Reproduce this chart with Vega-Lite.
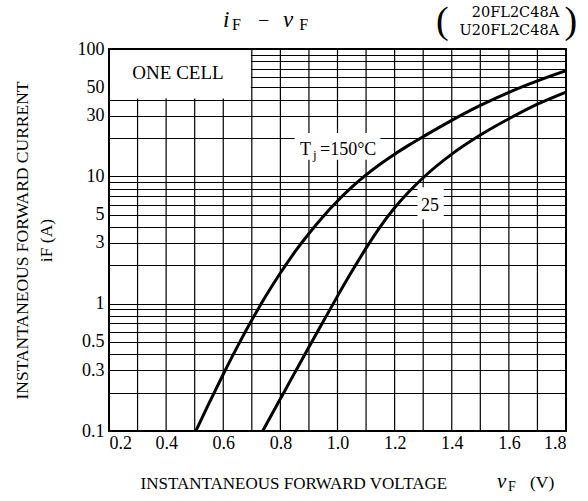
{
  "$schema": "https://vega.github.io/schema/vega-lite/v6.json",
  "width": 457,
  "height": 382,
  "autosize": "none",
  "padding": {"left": 109, "top": 49, "right": 22, "bottom": 70},
  "background": "white",
  "config": {
    "view": {"stroke": null},
    "text": {"font": "Liberation Serif", "color": "#000"}
  },
  "layer": [
    {
      "data": {
        "values": [
          {"Tj": "150", "v": 0.504, "i": 0.1},
          {"Tj": "150", "v": 0.55, "i": 0.165},
          {"Tj": "150", "v": 0.6, "i": 0.279},
          {"Tj": "150", "v": 0.65, "i": 0.462},
          {"Tj": "150", "v": 0.7, "i": 0.743},
          {"Tj": "150", "v": 0.75, "i": 1.159},
          {"Tj": "150", "v": 0.8, "i": 1.742},
          {"Tj": "150", "v": 0.85, "i": 2.535},
          {"Tj": "150", "v": 0.9, "i": 3.556},
          {"Tj": "150", "v": 0.95, "i": 4.842},
          {"Tj": "150", "v": 1.0, "i": 6.397},
          {"Tj": "150", "v": 1.05, "i": 8.222},
          {"Tj": "150", "v": 1.1, "i": 10.26},
          {"Tj": "150", "v": 1.15, "i": 12.5},
          {"Tj": "150", "v": 1.2, "i": 14.93},
          {"Tj": "150", "v": 1.25, "i": 17.58},
          {"Tj": "150", "v": 1.3, "i": 20.51},
          {"Tj": "150", "v": 1.4, "i": 27.54},
          {"Tj": "150", "v": 1.5, "i": 36.06},
          {"Tj": "150", "v": 1.6, "i": 45.71},
          {"Tj": "150", "v": 1.7, "i": 56.23},
          {"Tj": "150", "v": 1.8, "i": 67.61},
          {"Tj": "25", "v": 0.738, "i": 0.1},
          {"Tj": "25", "v": 0.8, "i": 0.179},
          {"Tj": "25", "v": 0.85, "i": 0.286},
          {"Tj": "25", "v": 0.9, "i": 0.456},
          {"Tj": "25", "v": 0.95, "i": 0.724},
          {"Tj": "25", "v": 1.0, "i": 1.146},
          {"Tj": "25", "v": 1.05, "i": 1.786},
          {"Tj": "25", "v": 1.1, "i": 2.729},
          {"Tj": "25", "v": 1.15, "i": 4.036},
          {"Tj": "25", "v": 1.2, "i": 5.662},
          {"Tj": "25", "v": 1.25, "i": 7.568},
          {"Tj": "25", "v": 1.3, "i": 9.75},
          {"Tj": "25", "v": 1.4, "i": 14.93},
          {"Tj": "25", "v": 1.5, "i": 21.09},
          {"Tj": "25", "v": 1.6, "i": 28.31},
          {"Tj": "25", "v": 1.7, "i": 36.9},
          {"Tj": "25", "v": 1.8, "i": 45.92}
        ]
      },
      "mark": {"type": "line", "color": "#000", "strokeWidth": 3, "interpolate": "monotone", "clip": true},
      "encoding": {
        "detail": {"field": "Tj", "type": "nominal"},
        "x": {
          "field": "v",
          "type": "quantitative",
          "scale": {"domain": [0.2, 1.8], "nice": false, "zero": false},
          "axis": {
            "values": [0.2, 0.3, 0.4, 0.5, 0.6, 0.7, 0.8, 0.9, 1.0, 1.1, 1.2, 1.3, 1.4, 1.5, 1.6, 1.7, 1.8],
            "labelExpr": "round(datum.value*10) % 2 == 0 ? format(datum.value, '.1f') : ''",
            "labelOverlap": false,
            "labelFont": "Liberation Serif",
            "labelFontSize": 18,
            "labelColor": "#000",
            "labelPadding": 3,
            "ticks": false,
            "domain": false,
            "grid": false,
            "title": "INSTANTANEOUS FORWARD VOLTAGE",
            "titleFont": "Liberation Serif",
            "titleFontSize": 17,
            "titleFontWeight": "normal",
            "titleColor": "#000",
            "titleAnchor": "start",
            "titleAlign": "left",
            "titleX": 31,
            "titleY": 57,
            "titleBaseline": "alphabetic"
          }
        },
        "y": {
          "field": "i",
          "type": "quantitative",
          "scale": {"type": "log", "domain": [0.1, 100], "nice": false},
          "axis": {
            "values": [0.1, 0.2, 0.3, 0.4, 0.5, 0.6, 0.7, 0.8, 0.9, 1, 2, 3, 4, 5, 6, 7, 8, 9, 10, 20, 30, 40, 50, 60, 70, 80, 90, 100],
            "format": "~g",
            "labelExpr": "indexof([0.1, 0.3, 0.5, 1, 3, 5, 10, 30, 50, 100], datum.value) >= 0 ? datum.label : ''",
            "labelOverlap": false,
            "labelFont": "Liberation Serif",
            "labelFontSize": 18,
            "labelColor": "#000",
            "labelPadding": 5,
            "ticks": false,
            "domain": false,
            "grid": true,
            "gridColor": "#000",
            "gridOpacity": 1,
            "gridWidth": 1.2,
            "title": ["INSTANTANEOUS FORWARD CURRENT", "iF  (A)"],
            "titleFont": "Liberation Serif",
            "titleFontSize": 17.5,
            "titleFontWeight": "normal",
            "titleColor": "#000",
            "titleLineHeight": 24,
            "titleBaseline": "middle",
            "titleAlign": "center",
            "titleAngle": -90,
            "titleX": -87,
            "titleY": 191
          }
        }
      }
    },
    {
      "data": {
        "values": [
          {"g": 0.2}, {"g": 0.3}, {"g": 0.4}, {"g": 0.5}, {"g": 0.6}, {"g": 0.7}, {"g": 0.8}, {"g": 0.9}, {"g": 1.0},
          {"g": 1.1}, {"g": 1.2}, {"g": 1.3}, {"g": 1.4}, {"g": 1.5}, {"g": 1.6}, {"g": 1.7}, {"g": 1.8}
        ]
      },
      "mark": {"type": "rule", "color": "#000", "strokeWidth": 1.2},
      "encoding": {
        "x": {"field": "g", "type": "quantitative"}
      }
    },
    {
      "data": {"values": [{}]},
      "mark": {"type": "rect", "fill": "white", "stroke": null},
      "encoding": {
        "x": {"datum": 0.2, "type": "quantitative"},
        "x2": {"datum": 0.6965},
        "y": {"datum": 40.8, "type": "quantitative"},
        "y2": {"datum": 100}
      }
    },
    {
      "data": {"values": [{}]},
      "mark": {"type": "rect", "fill": "white", "stroke": null},
      "encoding": {
        "x": {"datum": 0.85, "type": "quantitative"},
        "x2": {"datum": 1.15},
        "y": {"datum": 13.5, "type": "quantitative"},
        "y2": {"datum": 21.9}
      }
    },
    {
      "data": {"values": [{}]},
      "mark": {"type": "rect", "fill": "white", "stroke": null},
      "encoding": {
        "x": {"datum": 1.28, "type": "quantitative"},
        "x2": {"datum": 1.372},
        "y": {"datum": 4.6, "type": "quantitative"},
        "y2": {"datum": 8.2}
      }
    },
    {
      "data": {"values": [{}]},
      "mark": {"type": "text", "text": "ONE CELL", "fontSize": 19, "align": "center", "baseline": "middle"},
      "encoding": {"x": {"datum": 0.4416, "type": "quantitative"}, "y": {"datum": 64.8, "type": "quantitative"}}
    },
    {
      "data": {"values": [{}]},
      "mark": {"type": "text", "text": "T", "fontSize": 18, "align": "left", "baseline": "alphabetic", "dy": 6},
      "encoding": {"x": {"datum": 0.8688, "type": "quantitative"}, "y": {"datum": 16.4, "type": "quantitative"}}
    },
    {
      "data": {"values": [{}]},
      "mark": {"type": "text", "text": "j", "fontSize": 13, "align": "left", "baseline": "alphabetic", "dy": 10},
      "encoding": {"x": {"datum": 0.9143, "type": "quantitative"}, "y": {"datum": 16.4, "type": "quantitative"}}
    },
    {
      "data": {"values": [{}]},
      "mark": {"type": "text", "text": "=150°C", "fontSize": 18, "align": "left", "baseline": "alphabetic", "dy": 6},
      "encoding": {"x": {"datum": 0.9388, "type": "quantitative"}, "y": {"datum": 16.4, "type": "quantitative"}}
    },
    {
      "data": {"values": [{}]},
      "mark": {"type": "text", "text": "25", "fontSize": 18, "align": "center", "baseline": "middle", "dy": 1},
      "encoding": {"x": {"datum": 1.324, "type": "quantitative"}, "y": {"datum": 5.96, "type": "quantitative"}}
    },
    {
      "data": {"values": [{}]},
      "mark": {"type": "text", "text": "i", "fontSize": 23, "fontStyle": "italic", "align": "left", "baseline": "alphabetic", "dy": -22},
      "encoding": {"x": {"datum": 0.599, "type": "quantitative"}, "y": {"datum": 100, "type": "quantitative"}}
    },
    {
      "data": {"values": [{}]},
      "mark": {"type": "text", "text": "F", "fontSize": 16, "align": "left", "baseline": "alphabetic", "dy": -19},
      "encoding": {"x": {"datum": 0.6307, "type": "quantitative"}, "y": {"datum": 100, "type": "quantitative"}}
    },
    {
      "data": {"values": [{}]},
      "mark": {"type": "text", "text": "−", "fontSize": 20, "align": "left", "baseline": "alphabetic", "dy": -22},
      "encoding": {"x": {"datum": 0.722, "type": "quantitative"}, "y": {"datum": 100, "type": "quantitative"}}
    },
    {
      "data": {"values": [{}]},
      "mark": {"type": "text", "text": "v", "fontSize": 23, "fontStyle": "italic", "align": "left", "baseline": "alphabetic", "dy": -22},
      "encoding": {"x": {"datum": 0.809, "type": "quantitative"}, "y": {"datum": 100, "type": "quantitative"}}
    },
    {
      "data": {"values": [{}]},
      "mark": {"type": "text", "text": "F", "fontSize": 16, "align": "left", "baseline": "alphabetic", "dy": -19},
      "encoding": {"x": {"datum": 0.866, "type": "quantitative"}, "y": {"datum": 100, "type": "quantitative"}}
    },
    {
      "data": {"values": [{}]},
      "mark": {"type": "text", "text": "20FL2C48A", "font": "DejaVu Serif", "fontSize": 14.5, "align": "right", "baseline": "alphabetic", "dy": -31.7},
      "encoding": {"x": {"datum": 1.776, "type": "quantitative"}, "y": {"datum": 100, "type": "quantitative"}}
    },
    {
      "data": {"values": [{}]},
      "mark": {"type": "text", "text": "U20FL2C48A", "font": "DejaVu Serif", "fontSize": 14.5, "align": "right", "baseline": "alphabetic", "dy": -14.3},
      "encoding": {"x": {"datum": 1.776, "type": "quantitative"}, "y": {"datum": 100, "type": "quantitative"}}
    },
    {
      "data": {"values": [{}]},
      "mark": {"type": "text", "text": "(", "fontSize": 38, "align": "left", "baseline": "middle", "dy": -27},
      "encoding": {"x": {"datum": 1.345, "type": "quantitative"}, "y": {"datum": 100, "type": "quantitative"}}
    },
    {
      "data": {"values": [{}]},
      "mark": {"type": "text", "text": ")", "fontSize": 38, "align": "right", "baseline": "middle", "dy": -27},
      "encoding": {"x": {"datum": 1.839, "type": "quantitative"}, "y": {"datum": 100, "type": "quantitative"}}
    },
    {
      "data": {"values": [{}]},
      "mark": {"type": "text", "text": "v", "fontSize": 21, "fontStyle": "italic", "align": "left", "baseline": "alphabetic", "dy": 57},
      "encoding": {"x": {"datum": 1.5585, "type": "quantitative"}, "y": {"datum": 0.1, "type": "quantitative"}}
    },
    {
      "data": {"values": [{}]},
      "mark": {"type": "text", "text": "F", "fontSize": 14, "align": "left", "baseline": "alphabetic", "dy": 60},
      "encoding": {"x": {"datum": 1.597, "type": "quantitative"}, "y": {"datum": 0.1, "type": "quantitative"}}
    },
    {
      "data": {"values": [{}]},
      "mark": {"type": "text", "text": "(V)", "fontSize": 17.5, "align": "left", "baseline": "alphabetic", "dy": 57},
      "encoding": {"x": {"datum": 1.674, "type": "quantitative"}, "y": {"datum": 0.1, "type": "quantitative"}}
    },
    {
      "data": {"values": [{}]},
      "mark": {"type": "rect", "fill": null, "fillOpacity": 0, "stroke": "#000", "strokeWidth": 2},
      "encoding": {
        "x": {"datum": 0.2, "type": "quantitative"},
        "x2": {"datum": 1.8},
        "y": {"datum": 0.1, "type": "quantitative"},
        "y2": {"datum": 100}
      }
    }
  ]
}
